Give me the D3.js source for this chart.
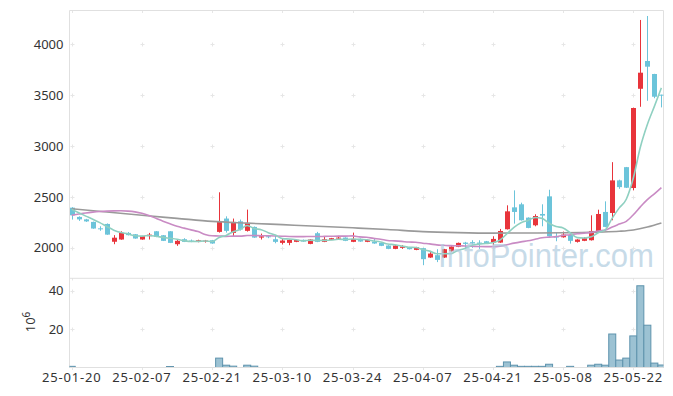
<!DOCTYPE html>
<html><head><meta charset="utf-8">
<script src="https://cdn.jsdelivr.net/npm/d3@7"></script>
<style>
body{margin:0;background:#fff}
svg{display:block}
text{font-family:'Noto Sans',sans-serif}
</style>
</head><body>
<svg id="c" width="673" height="396"></svg>
<script>
// ---- data ----
const dates = ["25-01-20","25-01-21","25-01-22","25-01-23","25-01-24","25-01-31","25-02-03","25-02-04","25-02-05","25-02-06",
"25-02-07","25-02-10","25-02-11","25-02-12","25-02-13","25-02-14","25-02-17","25-02-18","25-02-19","25-02-20",
"25-02-21","25-02-24","25-02-25","25-02-26","25-02-27","25-02-28","25-03-04","25-03-05","25-03-06","25-03-07",
"25-03-10","25-03-11","25-03-12","25-03-13","25-03-14","25-03-17","25-03-18","25-03-19","25-03-20","25-03-21",
"25-03-24","25-03-25","25-03-26","25-03-27","25-03-28","25-03-31","25-04-01","25-04-02","25-04-03","25-04-04",
"25-04-07","25-04-08","25-04-09","25-04-10","25-04-11","25-04-14","25-04-15","25-04-16","25-04-17","25-04-18",
"25-04-21","25-04-22","25-04-23","25-04-24","25-04-25","25-04-28","25-04-29","25-04-30","25-05-02","25-05-07",
"25-05-08","25-05-09","25-05-12","25-05-13","25-05-14","25-05-15","25-05-16","25-05-19","25-05-20","25-05-21",
"25-05-22","25-05-23","25-05-26","25-05-27","25-05-28"];

const open = [2395,2304,2280,2255,2192,2235,2060,2082,2147,2134,
2082,2115,2163,2124,2163,2036,2085,2072,2059,2062,
2075,2157,2288,2147,2261,2167,2206,2101,2114,2085,
2049,2049,2059,2079,2039,2144,2059,2079,2095,2101,
2059,2088,2059,2062,2049,2023,1990,2000,2007,1980,
1997,1905,1928,1905,1967,2010,2052,2056,2052,2065,
2052,2052,2183,2398,2428,2297,2222,2333,2506,2112,
2104,2127,2059,2069,2075,2157,2353,2343,2663,2793,
2588,3563,3836,3708,3505];

const close = [2320,2280,2260,2190,2190,2130,2100,2147,2125,2092,
2115,2130,2108,2069,2049,2069,2059,2066,2075,2072,
2043,2255,2167,2255,2180,2245,2101,2114,2108,2059,
2072,2079,2079,2062,2082,2059,2085,2095,2101,2069,
2088,2062,2079,2043,2020,1990,2023,2013,1987,2007,
1889,1944,1882,1987,2013,2049,2039,2043,2040,2042,
2088,2166,2359,2353,2271,2196,2313,2317,2114,2108,
2130,2069,2082,2095,2166,2333,2206,2663,2597,2591,
3374,3721,3780,3485,3499];

const high = [2400,2310,2285,2258,2212,2240,2125,2163,2155,2136,
2118,2147,2165,2126,2165,2082,2095,2082,2080,2078,
2078,2546,2310,2288,2278,2376,2210,2140,2124,2120,
2092,2082,2082,2082,2085,2157,2108,2098,2118,2104,
2150,2092,2082,2092,2052,2026,2026,2026,2010,2010,
2000,1970,1987,1990,2016,2052,2059,2075,2075,2068,
2114,2186,2418,2565,2444,2300,2330,2428,2571,2150,
2160,2130,2085,2105,2320,2375,2457,2842,2670,2795,
3378,4239,4278,3710,3505];

const low = [2278,2265,2255,2188,2168,2128,2036,2080,2122,2090,
2080,2082,2105,2067,2047,2020,2057,2056,2055,2052,
2040,2150,2150,2115,2170,2160,2098,2082,2095,2045,
2033,2026,2056,2059,2036,2056,2056,2076,2085,2066,
2056,2059,2056,2040,2017,1987,1987,1990,1984,1977,
1830,1902,1860,1902,1964,2007,2000,2000,1990,2039,
2026,2049,2180,2238,2268,2193,2212,2212,2110,2065,
2100,2042,2052,2066,2072,2150,2203,2271,2580,2588,
2565,3386,3445,3470,3380];

// volume, millions of shares
const volume = [0.6,0.1,0.1,0.1,0.1,0.1,0.1,0.1,0.1,0.1,
0.1,0.1,0.1,0.1,0.5,0.1,0.1,0.1,0.1,0.1,
0.1,4.9,1.2,0.7,0.2,1.2,0.7,0.1,0.1,0.1,
0.1,0.1,0.1,0.1,0.1,0.1,0.1,0.1,0.1,0.1,
0.1,0.1,0.1,0.1,0.1,0.1,0.1,0.1,0.1,0.1,
0.1,0.1,0.1,0.1,0.1,0.1,0.1,0.1,0.1,0.1,
0.1,0.6,2.9,1.2,0.6,0.6,0.6,0.6,1.7,0.1,
0.1,0.6,0.1,0.2,1.2,1.7,1.2,17.5,3.9,4.9,
16.5,42.7,22.1,2.3,1.3];

const ma5Head = [2378,2345,2312,2282];
const ma20Head = [2320,2332,2343,2351,2357,2361,2363,2364,2361,2354,
2340,2318,2290,2262,2236,2212,2194,2177,2160];
const ma60Idx = [0,5,10,15,20,25,30,35,40,45,50,55,60,65,70,75,78,80,82,84];
const ma60Val = [2385,2352,2320,2290,2260,2243,2228,2213,2197,2180,2160,2150,2145,2146,2148,2155,2163,2176,2205,2245];

const priceTicks = [2000,2500,3000,3500,4000];
const volTicks = [20,40];
const dateTickIdx = [0,10,20,30,40,50,60,70,80];

// ---- layout ----
const L = 69.5, R = 663.5, T = 10.5, PB = 278, VB = 367.5;
const svg = d3.select("#c");

const x = d3.scaleBand().domain(dates).range([68.2, 664.9]).paddingInner(0).paddingOuter(0);
const bw = x.bandwidth();
const cx = i => x(dates[i]) + bw / 2;
const y = d3.scaleLinear().domain([1704, 4332]).range([PB, T]);
const yv = d3.scaleLinear().domain([0, 46.6]).range([VB, 278.3]);

const ma5 = close.map((c, i) => i < 4 ? ma5Head[i] : d3.mean(close.slice(i - 4, i + 1)));
const ma20 = close.map((c, i) => i < 19 ? ma20Head[i] : d3.mean(close.slice(i - 19, i + 1)));

svg.append("defs").append("clipPath").attr("id", "clipP")
  .append("rect").attr("x", L).attr("y", T).attr("width", R - L).attr("height", PB - T);
svg.select("defs").append("clipPath").attr("id", "clipV")
  .append("rect").attr("x", L).attr("y", 278.3).attr("width", R - L).attr("height", VB - 278.3);

// grid crosses
const gridCol = "#e6e6e6";
const gGrid = svg.append("g").attr("stroke", gridCol).attr("stroke-width", 1);
function cross(px, py) {
  gGrid.append("line").attr("x1", px - 2).attr("x2", px + 2).attr("y1", py).attr("y2", py);
  gGrid.append("line").attr("x1", px).attr("x2", px).attr("y1", py - 2).attr("y2", py + 2);
}
dateTickIdx.forEach(i => {
  const px = Math.round(cx(i)) + 0.5;
  priceTicks.forEach(p => cross(px, Math.round(y(p)) + 0.5));
  volTicks.forEach(v => cross(px, Math.round(yv(v)) + 0.5));
  gGrid.append("line").attr("x1", px).attr("x2", px).attr("y1", T).attr("y2", T + 2.5);
  gGrid.append("line").attr("x1", px).attr("x2", px).attr("y1", PB).attr("y2", PB + 2.5);
  gGrid.append("line").attr("x1", px).attr("x2", px).attr("y1", VB).attr("y2", VB + 2.5);
});

// frame
const frameCol = "#e0e0e0";
const gF = svg.append("g").attr("stroke", frameCol).attr("stroke-width", 1).attr("fill", "none");
gF.append("line").attr("x1", L).attr("x2", L).attr("y1", T).attr("y2", VB);
gF.append("line").attr("x1", R).attr("x2", R).attr("y1", T).attr("y2", VB);
gF.append("line").attr("x1", L).attr("x2", R).attr("y1", T).attr("y2", T);
gF.append("line").attr("x1", L).attr("x2", R).attr("y1", PB + 0.3).attr("y2", PB + 0.3);

// volume bars
const gV = svg.append("g").attr("clip-path", "url(#clipV)");
gV.selectAll("rect").data(volume).join("rect")
  .attr("x", (v, i) => x(dates[i]))
  .attr("width", bw)
  .attr("y", v => yv(v))
  .attr("height", v => yv(0) - yv(v))
  .attr("fill", "#9cc2d3")
  .attr("stroke", "#5e93ad")
  .attr("stroke-width", v => (yv(0) - yv(v)) < 0.8 ? 0 : 1);
svg.append("line").attr("x1", L).attr("x2", R).attr("y1", VB).attr("y2", VB)
  .attr("stroke", frameCol);

// candles
const up = "#e8343b", down = "#6cc4da";
const gC = svg.append("g").attr("clip-path", "url(#clipP)");
const idx = d3.range(dates.length);
gC.selectAll("line.w").data(idx).join("line").attr("class", "w")
  .attr("x1", i => Math.round(cx(i)) + 0.5).attr("x2", i => Math.round(cx(i)) + 0.5)
  .attr("y1", i => y(high[i])).attr("y2", i => y(low[i]))
  .attr("stroke", i => close[i] > open[i] ? up : down)
  .attr("stroke-width", 1);
gC.selectAll("rect.b").data(idx).join("rect").attr("class", "b")
  .attr("x", i => Math.round(cx(i)) + 0.5 - 2.5)
  .attr("width", 5)
  .attr("y", i => y(Math.max(open[i], close[i])))
  .attr("height", i => Math.max(1, Math.abs(y(open[i]) - y(close[i]))))
  .attr("fill", i => close[i] > open[i] ? up : down);

// MA lines
const line = d3.line().x(d => cx(d[0])).y(d => y(d[1])).curve(d3.curveMonotoneX);
const gL = svg.append("g").attr("clip-path", "url(#clipP)").attr("fill", "none").attr("stroke-width", 1.6);
gL.append("path").attr("d", line(ma60Idx.map((i, k) => [i, ma60Val[k]]))).attr("stroke", "#9a9a9a");
gL.append("path").attr("d", line(ma20.map((v, i) => [i, v]))).attr("stroke", "#c98bc4");
gL.append("path").attr("d", line(ma5.map((v, i) => [i, v]))).attr("stroke", "#8fd0c1");

// watermark
svg.append("text").attr("x", 438).attr("y", 267)
  .attr("textLength", 216).attr("lengthAdjust", "spacingAndGlyphs")
  .style("font-family", "'Liberation Sans', Arial, sans-serif")
  .style("font-size", "34px")
  .attr("fill", "#b2cddf").attr("fill-opacity", 0.72)
  .text("InfoPointer.com");

// axis labels
const lab = svg.append("g").attr("fill", "#333").style("font-size", "13px");
priceTicks.forEach(p => lab.append("text").attr("x", 63.5).attr("y", y(p)).attr("dy", "0.35em")
  .attr("text-anchor", "end").text(p));
volTicks.forEach(v => lab.append("text").attr("x", 63.5).attr("y", yv(v)).attr("dy", "0.35em")
  .attr("text-anchor", "end").text(v));
dateTickIdx.forEach(i => lab.append("text").attr("x", cx(i)).attr("y", 382)
  .attr("text-anchor", "middle").style("letter-spacing", "0.8px").text(dates[i]));
const u = lab.append("text").attr("transform", "translate(35,322) rotate(-90)").attr("text-anchor", "middle");
u.append("tspan").text("10");
u.append("tspan").attr("dy", "-5").style("font-size", "10px").text("6");
</script>
</body></html>
